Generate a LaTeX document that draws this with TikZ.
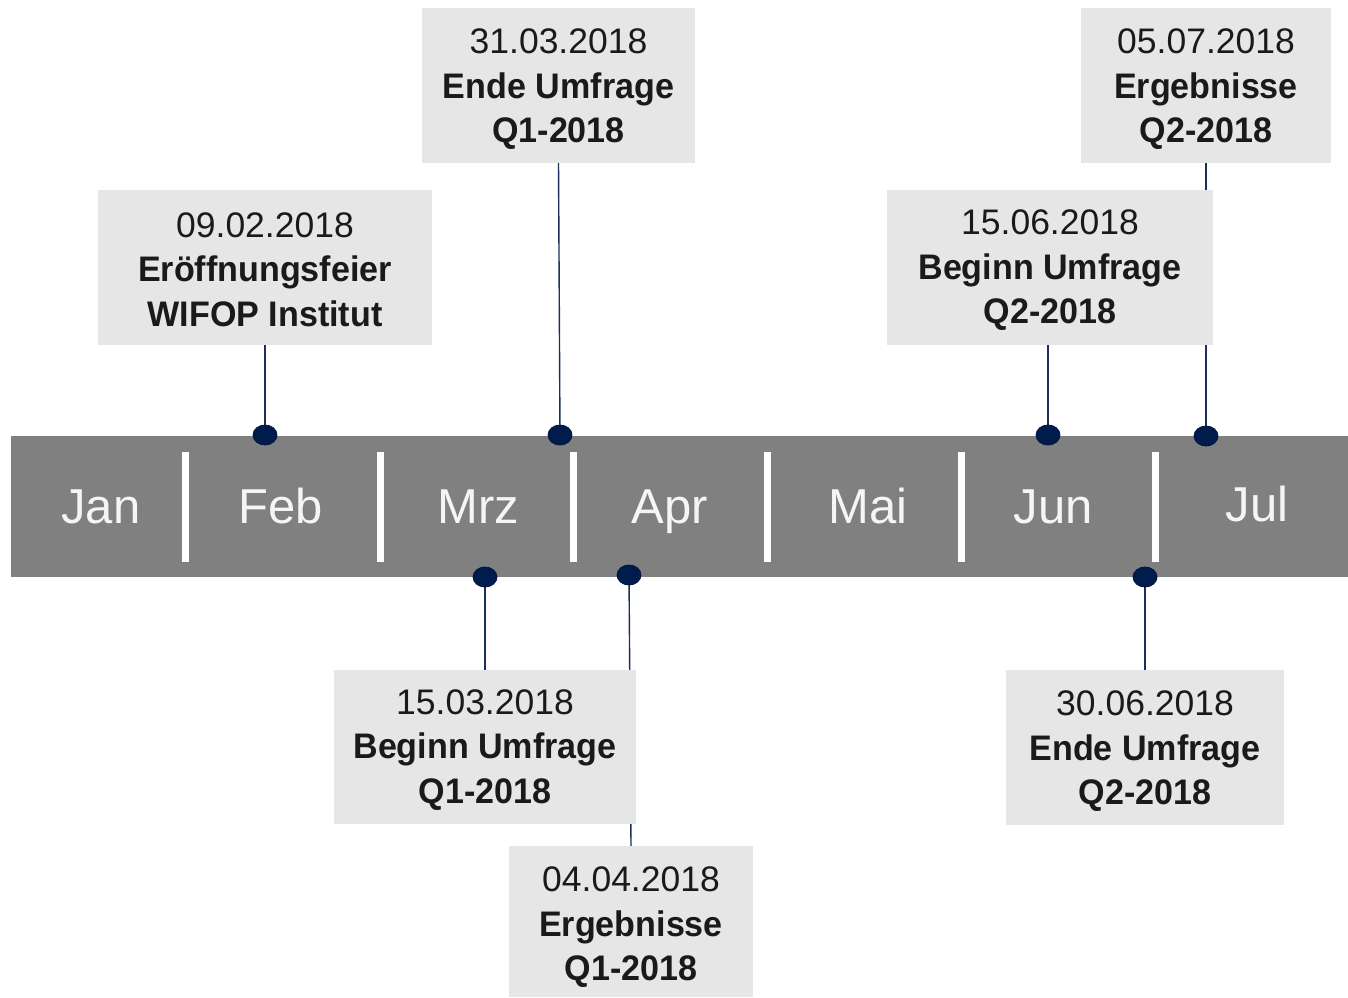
\documentclass[tikz,border=0pt]{standalone}
\usepackage{fontspec}
\setmainfont{Liberation Sans}[BoldFeatures={FakeStretch=0.96}]
\usetikzlibrary{shapes.geometric}
\definecolor{barcol}{HTML}{808080}
\definecolor{boxcol}{HTML}{E6E6E6}
\definecolor{dotfill}{HTML}{001C4D}
\definecolor{dotline}{HTML}{00143C}
\definecolor{linecol}{HTML}{1A2F5A}
\definecolor{txtcol}{HTML}{1A1A1A}
\tikzset{
  evbox/.style={fill=boxcol, draw=none, inner sep=0pt},
  evtext/.style={inner sep=0pt, align=center, text=txtcol,
    font=\fontsize{35.5}{44.5}\selectfont},
  evdot/.style={ellipse, fill=dotfill, draw=dotline, line width=0.8pt, minimum width=24, minimum height=20, inner sep=0pt},
  evline/.style={draw=linecol, line width=1.4pt},
  month/.style={anchor=base, text=white!96!black, font=\fontsize{49}{49}\selectfont, inner sep=0pt},
  sep/.style={fill=white, draw=none}
}
\begin{document}
\begin{tikzpicture}[x=1pt,y=-1pt]
\useasboundingbox[fill=white] (0,0) rectangle (1348,997);
% dot positions
\path
  (265,435) coordinate (p1)
  (560,435) coordinate (p2)
  (1048,435) coordinate (p3)
  (1206,436) coordinate (p4)
  (485,577) coordinate (p5)
  (629,575) coordinate (p6)
  (1145,577) coordinate (p7);
% box geometry
\path
  (265,267.5) node[minimum width=334, minimum height=155, inner sep=0pt] (b1) {}
  (558.5,85.5) node[minimum width=273, minimum height=155, inner sep=0pt] (b2) {}
  (1050,267.5) node[minimum width=326, minimum height=155, inner sep=0pt] (b3) {}
  (1206,85.5) node[minimum width=250, minimum height=155, inner sep=0pt] (b4) {}
  (485,747) node[minimum width=302, minimum height=154, inner sep=0pt] (b5) {}
  (631,921.5) node[minimum width=244, minimum height=151, inner sep=0pt] (b6) {}
  (1145,747.5) node[minimum width=278, minimum height=155, inner sep=0pt] (b7) {};
% connectors
\draw[evline] (p1) -- (p1 |- b1.south);
\draw[evline] (p2) -- (b2.south);
\draw[evline] (p3) -- (p3 |- b3.south);
\draw[evline] (p4) -- (p4 |- b4.south);
\draw[evline] (p5) -- (p5 |- b5.north);
\draw[evline] (p6) -- (b6.north);
\draw[evline] (p7) -- (p7 |- b7.north);
% bar
\node[fill=barcol, minimum width=1337, minimum height=141, inner sep=0pt] (bar) at (679.5,506.5) {};
\foreach \sx in {185,380,573,767,961,1155}{
  \fill[sep] (\sx-3.5,452) rectangle (\sx+3.5,562);
}
\node[month] (mjan) at (101,523) {Jan};
\node[month] (mfeb) at (281,523) {Feb};
\node[month] (mmrz) at (478,523) {Mrz};
\node[month] (mapr) at (670,523) {Apr};
\node[month] (mmai) at (868,523) {Mai};
\node[month] (mjun) at (1053,523) {Jun};
\node[month] (mjul) at (1257,521) {Jul};
% visible boxes
\node[evbox, minimum width=334, minimum height=155] (f1) at (b1) {};
\node[evbox, minimum width=273, minimum height=155] (f2) at (b2) {};
\node[evbox, minimum width=326, minimum height=155] (f3) at (b3) {};
\node[evbox, minimum width=250, minimum height=155] (f4) at (b4) {};
\node[evbox, minimum width=302, minimum height=154] (f5) at (b5) {};
\node[evbox, minimum width=244, minimum height=151] (f6) at (b6) {};
\node[evbox, minimum width=278, minimum height=155] (f7) at (b7) {};
% texts
\node[evtext] (t1) at ([yshift=-2pt]b1.center) {09.02.2018\\\textbf{Eröffnungsfeier}\\\textbf{WIFOP Institut}};
\node[evtext] (t2) at ([yshift=-4pt]b2.center) {31.03.2018\\\textbf{Ende Umfrage}\\\textbf{Q1-2018}};
\node[evtext] (t3) at ([yshift=-3pt]b3.center) {15.06.2018\\\textbf{Beginn Umfrage}\\\textbf{Q2-2018}};
\node[evtext] (t4) at ([yshift=-4pt]b4.center) {05.07.2018\\\textbf{Ergebnisse}\\\textbf{Q2-2018}};
\node[evtext] (t5) at ([yshift=-3pt]b5.center) {15.03.2018\\\textbf{Beginn Umfrage}\\\textbf{Q1-2018}};
\node[evtext] (t6) at ([yshift=-6pt]b6.center) {04.04.2018\\\textbf{Ergebnisse}\\\textbf{Q1-2018}};
\node[evtext] (t7) at ([yshift=-4pt]b7.center) {30.06.2018\\\textbf{Ende Umfrage}\\\textbf{Q2-2018}};
% dots on top
\foreach \p in {p1,p2,p3,p4,p5,p6,p7}{
  \node[evdot] (d\p) at (\p) {};
}
\end{tikzpicture}
\end{document}
